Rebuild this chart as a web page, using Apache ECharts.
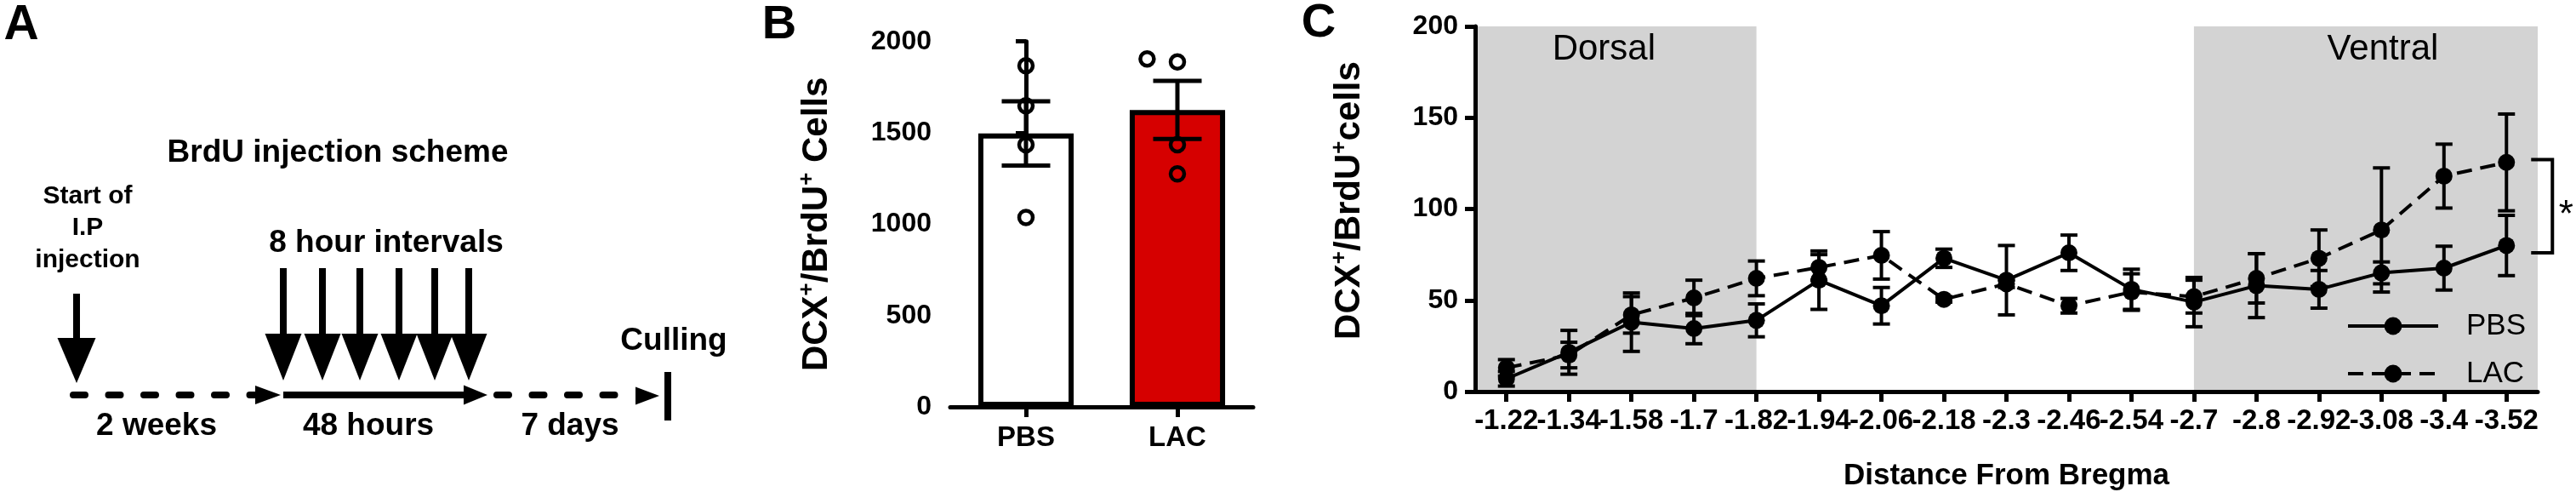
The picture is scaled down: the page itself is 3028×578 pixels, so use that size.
<!DOCTYPE html>
<html>
<head>
<meta charset="utf-8">
<script src="https://cdn.jsdelivr.net/npm/echarts@6/dist/echarts.min.js"></script>
<style>
html,body{margin:0;padding:0;background:#fff;}
#chart{width:3028px;height:578px;}
</style>
</head>
<body>
<div id="chart"></div>
<script>
// ---------------- Panel B data ----------------
const groups = ['PBS', 'LAC'];
const groupMeans = [1497, 1625];
const groupSems = [176, 159];
const pbsPoints = [1867, 1648, 1435, 1037];
const pbsJitter = [0, 0, 0, 0];
const lacPoints = [1904, 1888, 1435, 1275];
const lacJitter = [-0.2, 0, 0, 0];
const yTicksB = { min: 0, max: 2000, step: 500 };

// ---------------- Panel C data ----------------
const distances = ['-1.22', '-1.34', '-1.58', '-1.7', '-1.82', '-1.94', '-2.06', '-2.18', '-2.3',
                   '-2.46', '-2.54', '-2.7', '-2.8', '-2.92', '-3.08', '-3.4', '-3.52'];
const pbsMean = [7, 21.5, 38, 34.5, 39, 61, 47, 73, 61, 76, 56, 49, 58, 56, 65, 67.6, 80];
const pbsSem  = [4, 12, 16, 8.3, 9, 16, 10, 5, 19, 9.7, 11, 13.5, 17.5, 10.3, 6, 12, 16.5];
const lacMean = [13, 20, 42, 51.3, 62, 68, 74.6, 50.5, 59, 47, 54.5, 52, 62, 73, 88.5, 118, 125.5];
const lacSem  = [4.5, 7, 10, 9.7, 9.5, 7, 13, 1.5, 2, 4, 10, 9, 13.5, 15.5, 34, 17.5, 26.5];
const yTicksC = { min: 0, max: 200, step: 50 };
const regionNames = ['Dorsal', 'Ventral'];
const regionFrom = [-0.5, 11];   // category index (band edges)
const regionTo = [4, 16.5];
const sigIndex = 16;
const sigTop = 127;
const sigBottom = 76;
const sigLabel = '*';

// ---------------- styles ----------------
const FONT = '"Liberation Sans", Arial, Helvetica, sans-serif';
const BLACK = '#000000';
const BAR_COLORS = ['#ffffff', '#d60000'];
const REGION_FILL = '#d3d3d3';
const REGION_LABEL_DX = [-14, 20];

function txt(x, y, text, size, bold) {
  const font = (bold ? 'bold ' : '') + size + 'px ' + FONT;
  return { type: 'text', x: x, y: y, silent: true,
    style: { text: text, font: font, fill: BLACK, textAlign: 'center', textVerticalAlign: 'middle',
             align: 'center', verticalAlign: 'middle' } };
}
function downArrow(x, yTop, yHead, yTip, headW, shaftW) {
  return [
    { type: 'rect', silent: true, shape: { x: x - shaftW / 2, y: yTop, width: shaftW, height: yHead - yTop + 1 }, style: { fill: BLACK } },
    { type: 'polygon', silent: true, shape: { points: [[x - headW / 2, yHead], [x + headW / 2, yHead], [x, yTip]] }, style: { fill: BLACK } }
  ];
}
function rightHead(xBase, xTip, yc, h) {
  return { type: 'polygon', silent: true, shape: { points: [[xBase, yc - h / 2], [xBase, yc + h / 2], [xTip, yc]] }, style: { fill: BLACK } };
}

// ---------------- Panel A (schematic) ----------------
const LINE_Y = 464;
const schemeEls = [];
schemeEls.push(txt(25, 30, 'A', 57, true));
schemeEls.push(txt(916, 30, 'B', 56, true));
schemeEls.push(txt(1550, 28, 'C', 56, true));
schemeEls.push(txt(397, 180, 'BrdU injection scheme', 37, true));
schemeEls.push(txt(103, 231, 'Start of', 30, true));
schemeEls.push(txt(103, 268, 'I.P', 30, true));
schemeEls.push(txt(103, 306, 'injection', 30, true));
schemeEls.push(txt(454, 286, '8 hour intervals', 37, true));
schemeEls.push(txt(184, 501, '2 weeks', 37, true));
schemeEls.push(txt(433, 501, '48 hours', 37, true));
schemeEls.push(txt(670, 501, '7 days', 37, true));
schemeEls.push(txt(792, 401, 'Culling', 37, true));
downArrow(90, 345, 397, 450, 45, 8).forEach(e => schemeEls.push(e));
[333, 379, 423, 469, 511, 551].forEach(x => downArrow(x, 315, 392, 447, 43, 8).forEach(e => schemeEls.push(e)));
schemeEls.push({ type: 'line', silent: true, shape: { x1: 86, y1: LINE_Y, x2: 300, y2: LINE_Y },
  style: { stroke: BLACK, lineWidth: 8, lineDash: [14, 27.5], lineCap: 'round' } });
schemeEls.push(rightHead(300, 330, LINE_Y, 22));
schemeEls.push({ type: 'line', silent: true, shape: { x1: 333, y1: LINE_Y, x2: 548, y2: LINE_Y },
  style: { stroke: BLACK, lineWidth: 8 } });
schemeEls.push(rightHead(545, 573, LINE_Y, 23));
schemeEls.push({ type: 'line', silent: true, shape: { x1: 584, y1: LINE_Y, x2: 724, y2: LINE_Y },
  style: { stroke: BLACK, lineWidth: 8, lineDash: [14, 27.5], lineCap: 'round' } });
schemeEls.push(rightHead(747, 775, LINE_Y + 1, 21));
schemeEls.push({ type: 'rect', silent: true, shape: { x: 781, y: 437, width: 8, height: 57 }, style: { fill: BLACK } });

// ---------------- common axis styles ----------------
const axisLineStyle = { show: true, lineStyle: { color: BLACK, width: 5 } };
const axisTickStyle = { show: true, length: 12, lineStyle: { color: BLACK, width: 5 } };
const tickLabel = (size, margin) => ({ color: BLACK, fontSize: size, fontWeight: 'bold', fontFamily: FONT, margin: margin,
  formatter: v => String(v) });
const titleRich = {
  t: { fontSize: 42, fontWeight: 'bold', fontFamily: FONT, color: BLACK, lineHeight: 48 },
  s: { fontSize: 26, fontWeight: 'bold', fontFamily: FONT, color: BLACK, lineHeight: 26, verticalAlign: 'top' }
};

// ---------------- custom renderers ----------------
function barRender(params, api) {
  const i = params.dataIndex;
  const p = api.coord([api.value(0), api.value(1)]);
  const y0 = api.coord([api.value(0), 0])[1];
  const band = api.size([1, 0])[0];
  const w = band * 0.63;
  const bw = 6;
  return { type: 'rect', shape: { x: p[0] - w / 2 + bw / 2, y: p[1] + bw / 2, width: w - bw, height: y0 - p[1] - bw },
    style: { fill: BAR_COLORS[i], stroke: BLACK, lineWidth: bw } };
}
function errRender(capHalf, lw) {
  return function (params, api) {
    const xi = api.value(0), m = api.value(1), s = api.value(2);
    const top = api.coord([xi, m + s]);
    const bot = api.coord([xi, m - s]);
    const x = top[0];
    const st = { stroke: BLACK, lineWidth: lw };
    return { type: 'group', children: [
      { type: 'line', shape: { x1: x, y1: top[1], x2: x, y2: bot[1] }, style: st },
      { type: 'line', shape: { x1: x - capHalf, y1: top[1], x2: x + capHalf, y2: top[1] }, style: st },
      { type: 'line', shape: { x1: x - capHalf, y1: bot[1], x2: x + capHalf, y2: bot[1] }, style: st }
    ] };
  };
}
function regionRender(params, api) {
  const i = params.dataIndex;
  const band = api.size([1, 0])[0];
  const x0 = api.coord([0, 0])[0];
  const xa = x0 + regionFrom[i] * band;
  const xb = x0 + regionTo[i] * band;
  const yTop = api.coord([0, yTicksC.max])[1];
  const yBot = api.coord([0, yTicksC.min])[1];
  return { type: 'group', children: [
    { type: 'rect', shape: { x: xa, y: yTop, width: xb - xa, height: yBot - yTop }, style: { fill: REGION_FILL } },
    { type: 'text', x: (xa + xb) / 2 + REGION_LABEL_DX[i], y: yTop + 27,
      style: { text: regionNames[i], font: '42px ' + FONT, fill: BLACK, textAlign: 'center', textVerticalAlign: 'middle', align: 'center', verticalAlign: 'middle' } }
  ] };
}
function sigRender(params, api) {
  const t = api.coord([api.value(0), api.value(1)]);
  const b = api.coord([api.value(0), api.value(2)]);
  const x = t[0];
  return { type: 'group', children: [
    { type: 'polyline', shape: { points: [[x + 29, t[1]], [x + 54, t[1]], [x + 54, b[1]], [x + 29, b[1]]] },
      style: { stroke: BLACK, lineWidth: 4, fill: null } },
    { type: 'text', x: x + 70, y: (t[1] + b[1]) / 2 + 12,
      style: { text: sigLabel, font: '44px ' + FONT, fill: BLACK, textAlign: 'center', textVerticalAlign: 'middle', align: 'center', verticalAlign: 'middle' } }
  ] };
}

const chart = echarts.init(document.getElementById('chart'), null, { renderer: 'canvas' });
const option = {
  animation: false,
  backgroundColor: '#ffffff',
  textStyle: { fontFamily: FONT },
  graphic: { elements: schemeEls },
  grid: [
    { left: 1117, top: 48.7, width: 356, height: 429.3, outerBoundsMode: 'none', containLabel: false },
    { left: 1734, top: 31, width: 1249, height: 429, outerBoundsMode: 'none', containLabel: false }
  ],
  xAxis: [
    { gridIndex: 0, type: 'category', data: groups, boundaryGap: true,
      axisLine: axisLineStyle, axisTick: Object.assign({ alignWithLabel: true }, axisTickStyle),
      axisLabel: tickLabel(33, 20), splitLine: { show: false } },
    { gridIndex: 0, type: 'value', min: -0.5, max: 1.5, show: false },
    { gridIndex: 1, type: 'category', data: distances, boundaryGap: true, z: 10,
      axisLine: axisLineStyle, axisTick: Object.assign({ alignWithLabel: true, interval: 0 }, axisTickStyle),
      axisLabel: Object.assign(tickLabel(33, 18), { interval: 0 }), splitLine: { show: false },
      name: 'Distance From Bregma', nameLocation: 'middle', nameGap: 82,
      nameTextStyle: { fontSize: 35, fontWeight: 'bold', fontFamily: FONT, color: BLACK } }
  ],
  yAxis: [
    { gridIndex: 0, type: 'value', min: yTicksB.min, max: yTicksB.max, interval: yTicksB.step,
      axisLine: axisLineStyle, axisTick: axisTickStyle, axisLabel: tickLabel(32, 22), splitLine: { show: false },
      name: '{t|DCX}{s|+}{t|/BrdU}{s|+}{t| Cells}', nameLocation: 'middle', nameRotate: 90, nameGap: 133,
      nameTextStyle: { rich: titleRich } },
    { gridIndex: 1, type: 'value', min: yTicksC.min, max: yTicksC.max, interval: yTicksC.step, z: 10,
      axisLine: axisLineStyle, axisTick: axisTickStyle, axisLabel: tickLabel(32, 20), splitLine: { show: false },
      name: '{t|DCX}{s|+}{t|/BrdU}{s|+}{t|cells}', nameLocation: 'middle', nameRotate: 90, nameGap: 124,
      nameTextStyle: { rich: titleRich, padding: [0, 0, 0, 20] } }
  ],
  legend: {
    data: ['PBS', 'LAC'], orient: 'vertical', left: 2753, top: 360,
    itemWidth: 106, itemHeight: 26, itemGap: 20, selectedMode: false,
    lineStyle: { width: 4 },
    textStyle: { fontSize: 35, color: BLACK, fontFamily: FONT, lineHeight: 36, padding: [0, 0, 0, 28] }
  },
  series: [
    // Panel B
    { type: 'custom', name: 'bars', xAxisIndex: 0, yAxisIndex: 0, z: 2, silent: true,
      data: groups.map((g, i) => [i, groupMeans[i]]), encode: { x: 0, y: 1 }, renderItem: barRender },
    { type: 'custom', name: 'barErr', xAxisIndex: 0, yAxisIndex: 0, z: 3, silent: true,
      data: groups.map((g, i) => [i, groupMeans[i], groupSems[i]]), encode: { x: 0, y: 1 }, renderItem: errRender(28.5, 5) },
    { type: 'scatter', name: 'points', xAxisIndex: 1, yAxisIndex: 0, z: 5, silent: true,
      symbol: 'circle', symbolSize: 16,
      itemStyle: { color: 'rgba(0,0,0,0)', borderColor: BLACK, borderWidth: 4.5, opacity: 1 },
      data: pbsPoints.map((v, i) => [0 + pbsJitter[i], v]).concat(lacPoints.map((v, i) => [1 + lacJitter[i], v])) },
    // Panel C
    { type: 'custom', name: 'regions', xAxisIndex: 2, yAxisIndex: 1, z: 1, silent: true,
      data: regionNames.map((n, i) => [i, 0]), encode: { x: 0, y: 1 }, renderItem: regionRender },
    { type: 'custom', name: 'pbsErr', xAxisIndex: 2, yAxisIndex: 1, z: 3, silent: true,
      data: pbsMean.map((m, i) => [i, m, pbsSem[i]]), encode: { x: 0, y: 1 }, renderItem: errRender(10, 4) },
    { type: 'custom', name: 'lacErr', xAxisIndex: 2, yAxisIndex: 1, z: 3, silent: true,
      data: lacMean.map((m, i) => [i, m, lacSem[i]]), encode: { x: 0, y: 1 }, renderItem: errRender(10, 4) },
    { type: 'line', name: 'PBS', xAxisIndex: 2, yAxisIndex: 1, z: 4, silent: true,
      data: pbsMean, symbol: 'circle', symbolSize: 20,
      lineStyle: { color: BLACK, width: 4, type: 'solid' }, itemStyle: { color: BLACK } },
    { type: 'line', name: 'LAC', xAxisIndex: 2, yAxisIndex: 1, z: 4, silent: true,
      data: lacMean, symbol: 'circle', symbolSize: 20,
      lineStyle: { color: BLACK, width: 4, type: [18, 10] }, itemStyle: { color: BLACK } },
    { type: 'custom', name: 'sig', xAxisIndex: 2, yAxisIndex: 1, z: 4, silent: true,
      data: [[sigIndex, sigTop, sigBottom]], encode: { x: 0, y: 1 }, renderItem: sigRender }
  ]
};
chart.setOption(option);
</script>
</body>
</html>
